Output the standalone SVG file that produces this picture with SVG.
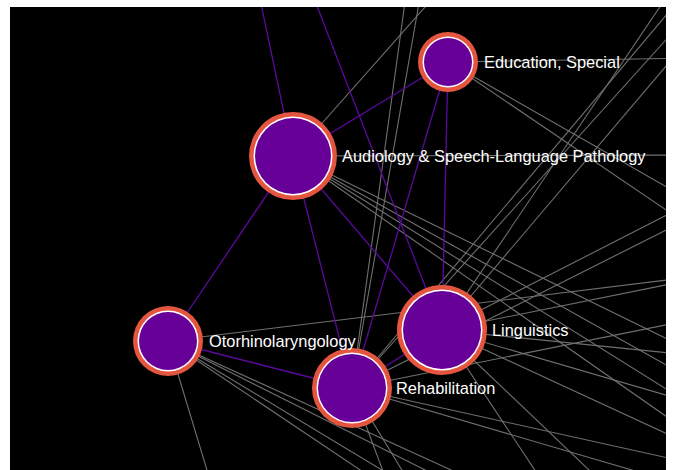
<svg xmlns="http://www.w3.org/2000/svg" width="675" height="470" viewBox="0 0 675 470">
  <defs>
    <style>
      .edge { stroke: #707070; stroke-width: 1.1; fill: none; }
      .link { stroke: #5b0a9e; stroke-width: 1.3; fill: none; }
      .ring { fill: #e4553f; }
      .halo { fill: #ffffff; }
      .core { fill: #660099; }
      .lbl  { font-family: "Liberation Sans", Arial, sans-serif; font-size: 16.4px; fill: #ffffff; }
    </style>
    <clipPath id="frame">
      <rect x="10" y="7" width="656" height="463"/>
    </clipPath>
  </defs>

  <!-- page and canvas -->
  <rect width="675" height="470" fill="#ffffff"/>
  <rect x="10" y="7" width="656" height="463" fill="#000000"/>

  <g id="connectors" clip-path="url(#frame)">
    <!-- grey: links to nodes outside the view -->
    <g class="edges">
      <line class="edge" x1="293" y1="156" x2="449" y2="-20"/>
      <line class="edge" x1="293" y1="156" x2="700" y2="155"/>
      <line class="edge" x1="293" y1="156" x2="700" y2="355"/>
      <line class="edge" x1="293" y1="156" x2="700" y2="384"/>
      <line class="edge" x1="293" y1="156" x2="700" y2="410"/>
      <line class="edge" x1="293" y1="156" x2="700" y2="440"/>

      <line class="edge" x1="448" y1="62" x2="700" y2="58"/>
      <line class="edge" x1="448" y1="62" x2="700" y2="206"/>
      <line class="edge" x1="448" y1="62" x2="700" y2="233"/>

      <line class="edge" x1="352" y1="388" x2="408" y2="-20"/>
      <line class="edge" x1="352" y1="388" x2="423" y2="-20"/>
      <line class="edge" x1="352" y1="388" x2="700" y2="-25"/>
      <line class="edge" x1="352" y1="388" x2="700" y2="2"/>
      <line class="edge" x1="352" y1="388" x2="700" y2="213"/>
      <line class="edge" x1="352" y1="388" x2="700" y2="318"/>
      <line class="edge" x1="352" y1="388" x2="390" y2="490"/>
      <line class="edge" x1="352" y1="388" x2="414" y2="490"/>
      <line class="edge" x1="352" y1="388" x2="700" y2="465"/>
      <line class="edge" x1="352" y1="388" x2="700" y2="490"/>

      <line class="edge" x1="442" y1="330" x2="700" y2="26"/>
      <line class="edge" x1="442" y1="330" x2="680" y2="-23"/>
      <line class="edge" x1="442" y1="330" x2="700" y2="198"/>
      <line class="edge" x1="442" y1="330" x2="700" y2="278"/>
      <line class="edge" x1="442" y1="330" x2="700" y2="356"/>
      <line class="edge" x1="442" y1="330" x2="700" y2="405"/>
      <line class="edge" x1="442" y1="330" x2="700" y2="449"/>
      <line class="edge" x1="442" y1="330" x2="610" y2="490"/>
      <line class="edge" x1="442" y1="330" x2="548" y2="490"/>

      <line class="edge" x1="168" y1="341" x2="700" y2="276"/>
      <line class="edge" x1="168" y1="341" x2="213" y2="490"/>
      <line class="edge" x1="168" y1="341" x2="390" y2="490"/>
      <line class="edge" x1="168" y1="341" x2="415" y2="490"/>
      <line class="edge" x1="168" y1="341" x2="465" y2="490"/>
      <line class="edge" x1="168" y1="341" x2="495" y2="490"/>
    </g>
    <!-- purple: links inside the cluster -->
    <g class="links">
      <line class="link" x1="293" y1="156" x2="256" y2="-20"/>
      <line class="link" x1="442" y1="330" x2="307" y2="-20"/>
      <line class="link" x1="448" y1="62" x2="293" y2="156"/>
      <line class="link" x1="448" y1="62" x2="442" y2="330"/>
      <line class="link" x1="448" y1="62" x2="352" y2="388"/>
      <line class="link" x1="293" y1="156" x2="442" y2="330"/>
      <line class="link" x1="293" y1="156" x2="352" y2="388"/>
      <line class="link" x1="293" y1="156" x2="168" y2="341"/>
      <line class="link" x1="168" y1="341" x2="352" y2="388"/>
      <line class="link" x1="442" y1="330" x2="352" y2="388"/>
    </g>
  </g>

  <g id="node-rehabilitation">
    <circle class="ring" cx="352" cy="388" r="40"/>
    <circle class="halo" cx="352" cy="388" r="35.5"/>
    <circle class="core" cx="352" cy="388" r="34"/>
    <text class="lbl" x="396" y="394">Rehabilitation</text>
  </g>

  <g id="node-linguistics">
    <circle class="ring" cx="442" cy="330" r="45"/>
    <circle class="halo" cx="442" cy="330" r="40.5"/>
    <circle class="core" cx="442" cy="330" r="39"/>
    <text class="lbl" x="492" y="336">Linguistics</text>
  </g>

  <g id="node-audiology">
    <circle class="ring" cx="293" cy="156" r="44"/>
    <circle class="halo" cx="293" cy="156" r="39.5"/>
    <circle class="core" cx="293" cy="156" r="38"/>
    <text class="lbl" x="342" y="162">Audiology &amp; Speech-Language Pathology</text>
  </g>

  <g id="node-education-special">
    <circle class="ring" cx="448" cy="62" r="30"/>
    <circle class="halo" cx="448" cy="62" r="25.5"/>
    <circle class="core" cx="448" cy="62" r="24"/>
    <text class="lbl" x="484" y="68">Education, Special</text>
  </g>

  <g id="node-otorhinolaryngology">
    <circle class="ring" cx="168" cy="341" r="35"/>
    <circle class="halo" cx="168" cy="341" r="30.5"/>
    <circle class="core" cx="168" cy="341" r="29"/>
    <text class="lbl" x="209" y="347">Otorhinolaryngology</text>
  </g>
</svg>
